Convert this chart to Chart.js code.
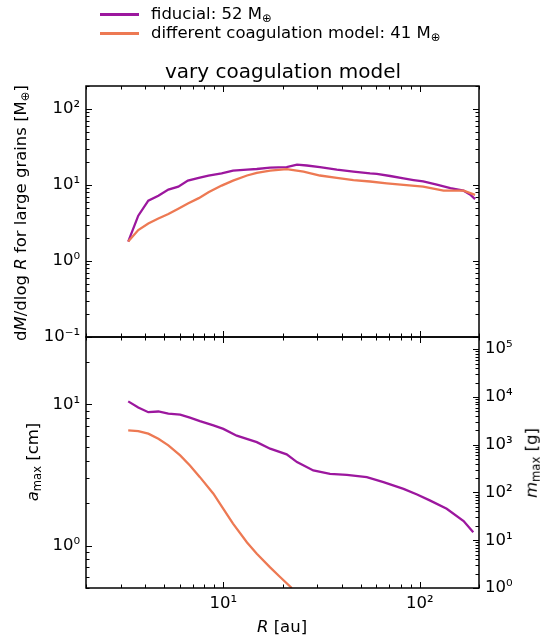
<!DOCTYPE html>
<html lang="en">
<head>
    <meta charset="UTF-8">
    <title>vary coagulation model</title>
    <script src="https://cdn.jsdelivr.net/npm/chart.js"></script>
    <style>
        body { margin: 0; background: #fff; font-family: "DejaVu Sans", sans-serif; color: #000; }
        #wrap { position: relative; width: 541px; height: 638px; overflow: hidden; }
        canvas { position: absolute; left: 0; }
        .lbl { position: absolute; white-space: nowrap; font-size: 16.5px; line-height: 1; }
        .rot { transform: translate(-50%, -50%) rotate(-90deg); }
        .ctr { transform: translate(-50%, -50%); }
        sub { font-size: 0.7em; vertical-align: -0.25em; line-height: 0; }
        .key { position: absolute; height: 2.5px; width: 39px; left: 100px; }
    </style>
</head>
<body>
<div id="wrap">
    <canvas id="topChart" width="541" height="357" style="top:0"></canvas>
    <canvas id="botChart" width="541" height="318" style="top:320px"></canvas>

    <div class="key" style="top:13px; background:#9c179e"></div>
    <div class="key" style="top:32px; background:#ed7953"></div>
    <div class="lbl" style="left:151px; top:6px">fiducial: 52 M<sub>⊕</sub></div>
    <div class="lbl" style="left:151px; top:25px">different coagulation model: 41 M<sub>⊕</sub></div>

    <div class="lbl ctr" style="left:283px; top:71px; font-size:20px">vary coagulation model</div>
    <div class="lbl rot" style="left:21px; top:213px">d<i>M</i>/dlog <i>R</i> for large grains [M<sub>⊕</sub>]</div>
    <div class="lbl rot" style="left:33px; top:462px"><i>a</i><sub>max</sub> [cm]</div>
    <div class="lbl rot" style="left:532px; top:463px"><i>m</i><sub>max</sub> [g]</div>
    <div class="lbl ctr" style="left:282px; top:627px"><i>R</i> [au]</div>
</div>

<script>
    // top panel: dM/dlogR of large grains
    const fidR = [3.28, 3.69, 4.15, 4.67, 5.25, 5.9, 6.6, 7.5, 8.4, 9.8, 11.2, 13.2, 14.8, 17.3, 21.0, 23.7, 26.6, 31.0, 37.8, 45.9, 55.8, 60.4, 70.6, 82.6, 92.9, 104, 122, 143, 167, 180, 191];
    const fidMass = [1.8, 3.94, 6.2, 7.2, 8.7, 9.5, 11.4, 12.4, 13.3, 14.2, 15.4, 15.9, 16.2, 16.9, 17.1, 18.5, 18.0, 17.1, 15.9, 15.0, 14.2, 14.0, 13.1, 12.2, 11.6, 11.1, 10.1, 9.1, 8.4, 7.5, 6.5];
    const coagR = [3.28, 3.69, 4.15, 4.67, 5.25, 5.9, 6.6, 7.5, 8.4, 9.8, 11.2, 13.2, 14.8, 17.3, 21.0, 25.6, 31.0, 37.8, 45.9, 55.8, 67.9, 82.6, 104, 132, 167, 191];
    const coagMass = [1.8, 2.55, 3.11, 3.62, 4.14, 4.87, 5.7, 6.7, 8.0, 9.8, 11.4, 13.3, 14.4, 15.4, 16.1, 15.0, 13.3, 12.4, 11.6, 11.1, 10.5, 10.0, 9.5, 8.4, 8.4, 7.4];

    // bottom panel: maximum grain size
    const fidAmaxR = [3.28, 3.69, 4.15, 4.67, 5.25, 6.03, 6.76, 7.6, 8.9, 10, 11.7, 14.8, 17.3, 21.0, 23.7, 28.7, 34.9, 42.5, 53.7, 65.3, 82.6, 96.8, 113, 137, 167, 187];
    const fidAmax = [10.5, 9.5, 8.8, 8.9, 8.6, 8.45, 8.05, 7.6, 7.1, 6.7, 6.0, 5.4, 4.85, 4.42, 3.9, 3.4, 3.22, 3.17, 3.05, 2.81, 2.52, 2.3, 2.08, 1.82, 1.49, 1.24];
    const coagAmaxR = [3.28, 3.69, 4.15, 4.67, 5.25, 6.03, 6.76, 7.6, 8.9, 10, 11.2, 13.2, 14.8, 17.3, 19.5, 22.3];
    const coagAmax = [6.55, 6.47, 6.2, 5.7, 5.12, 4.35, 3.69, 3.05, 2.33, 1.82, 1.43, 1.05, 0.873, 0.7, 0.596, 0.5];

    const massTicks = [0.1, 1, 10, 100];
    const amaxTicks = [1, 10];
    const mmaxTicks = [1, 10, 100, 1000, 10000, 100000];
    const rTicks = [10, 100];

    const PURPLE = '#9c179e';
    const ORANGE = '#ed7953';
    const FONT = { family: 'DejaVu Sans', size: 16.5 };

    const sup = { '-': '⁻', '0': '⁰', '1': '¹', '2': '²', '3': '³', '4': '⁴', '5': '⁵' };
    function pow10(v) {
        const e = String(Math.round(Math.log10(v)));
        return '10' + e.split('').map(c => sup[c]).join('');
    }
    const pts = (xs, ys) => xs.map((x, i) => ({ x: x, y: ys[i] }));

    function logSteps(min, max) {
        const out = [];
        for (let d = Math.floor(Math.log10(min)) - 1; d <= Math.ceil(Math.log10(max)); d++) {
            for (let k = 1; k < 10; k++) {
                const v = k * Math.pow(10, d);
                if (v >= min * 0.999 && v <= max * 1.001) out.push([v, k === 1]);
            }
        }
        return out;
    }

    // matplotlib-like frame with inward ticks
    const frameTicks = {
        id: 'frameTicks',
        afterDraw(chart, args, opts) {
            const ctx = chart.ctx, a = chart.chartArea;
            ctx.save();
            ctx.strokeStyle = '#000';
            ctx.lineWidth = 1;
            ctx.beginPath();
            (opts.sides || []).forEach(([id, side]) => {
                const s = chart.scales[id];
                logSteps(s.min, s.max).forEach(([v, major]) => {
                    const len = major ? 6 : 3.5;
                    const p = Math.round(s.getPixelForValue(v)) + 0.5;
                    if (side === 'top') { ctx.moveTo(p, a.top); ctx.lineTo(p, a.top + len); }
                    if (side === 'bottom') { ctx.moveTo(p, a.bottom); ctx.lineTo(p, a.bottom - len); }
                    if (side === 'left') { ctx.moveTo(a.left, p); ctx.lineTo(a.left + len, p); }
                    if (side === 'right') { ctx.moveTo(a.right, p); ctx.lineTo(a.right - len, p); }
                });
            });
            ctx.stroke();
            ctx.lineWidth = 1.5;
            ctx.strokeRect(a.left, a.top, a.right - a.left, a.bottom - a.top);
            ctx.restore();
        }
    };

    function logAxis(min, max, ticks, extra) {
        return Object.assign({
            type: 'logarithmic',
            min: min,
            max: max,
            grid: { display: false, drawTicks: false },
            border: { display: false },
            afterBuildTicks: s => { s.ticks = ticks.map(v => ({ value: v })); },
            ticks: { color: '#000', font: FONT, padding: 6, autoSkip: false, maxRotation: 0, callback: v => pow10(v) }
        }, extra);
    }

    function line(data, color) {
        return { data: data, borderColor: color, borderWidth: 2.3, pointRadius: 0, tension: 0, fill: false };
    }

    Chart.register(frameTicks);

    new Chart(document.getElementById('topChart'), {
        type: 'line',
        data: {
            datasets: [
                line(pts(coagR, coagMass), ORANGE),
                line(pts(fidR, fidMass), PURPLE)
            ]
        },
        options: {
            responsive: false,
            animation: false,
            layout: { padding: { top: 86, right: 62, left: 0, bottom: 0 } },
            plugins: {
                legend: { display: false },
                tooltip: { enabled: false },
                frameTicks: { sides: [['x', 'top'], ['x', 'bottom'], ['y', 'left'], ['y', 'right']] }
            },
            scales: {
                x: logAxis(2, 200, rTicks, { ticks: { display: false }, afterFit: s => { s.height = 20; } }),
                y: logAxis(0.1, 200, massTicks, { position: 'left', afterFit: s => { s.width = 86; } })
            }
        }
    });

    new Chart(document.getElementById('botChart'), {
        type: 'line',
        data: {
            datasets: [
                line(pts(coagAmaxR, coagAmax), ORANGE),
                line(pts(fidAmaxR, fidAmax), PURPLE)
            ]
        },
        options: {
            responsive: false,
            animation: false,
            layout: { padding: { top: 17, right: 0, left: 0, bottom: 0 } },
            plugins: {
                legend: { display: false },
                tooltip: { enabled: false },
                frameTicks: { sides: [['x', 'top'], ['x', 'bottom'], ['y', 'left'], ['y2', 'right']] }
            },
            scales: {
                x: logAxis(2, 200, rTicks, { afterFit: s => { s.height = 50; } }),
                y: logAxis(0.5, 30, amaxTicks, { position: 'left', afterFit: s => { s.width = 86; } }),
                y2: logAxis(1, 1.8e5, mmaxTicks, { position: 'right', afterFit: s => { s.width = 62; } })
            }
        }
    });
</script>
</body>
</html>
